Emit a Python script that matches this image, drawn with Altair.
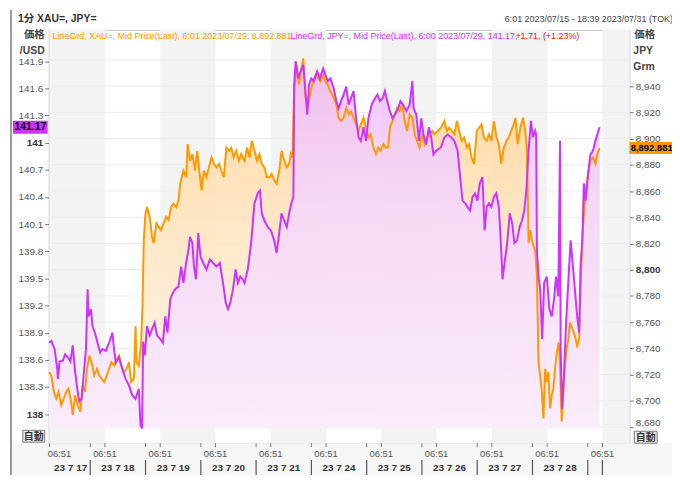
import altair as alt

# ---------------- data ----------------
# time axis in "trading-session" units (1 unit = one session band)
purple_t = [-0.01, 0.030, 0.090, 0.138, 0.149, 0.179, 0.239, 0.281, 0.328, 0.376, 0.418, 0.461, 0.507, 0.538, 0.579, 0.615, 0.658, 0.687, 0.705, 0.748,
            0.776, 0.819, 0.866, 0.914, 0.956, 1.016, 1.076, 1.135, 1.165, 1.196, 1.255, 1.314, 1.375, 1.434, 1.493, 1.554, 1.613, 1.644, 1.673, 1.691,
            1.721, 1.762, 1.811, 1.852, 1.900, 1.942, 2.003, 2.049, 2.092, 2.133, 2.182, 2.228, 2.271, 2.331, 2.379, 2.420, 2.469, 2.510, 2.540, 2.582,
            2.612, 2.648, 2.689, 2.730, 2.779, 2.838, 2.899, 2.958, 3.017, 3.078, 3.137, 3.186, 3.227, 3.268, 3.317, 3.365, 3.406, 3.448, 3.496, 3.526,
            3.585, 3.645, 3.706, 3.765, 3.806, 3.837, 3.885, 3.944, 4.003, 4.064, 4.105, 4.154, 4.195, 4.244, 4.290, 4.333, 4.374, 4.410, 4.423, 4.451,
            4.494, 4.541, 4.589, 4.631, 4.661, 4.692, 4.733, 4.781, 4.840, 4.889, 4.948, 4.989, 5.032, 5.079, 5.140, 5.186, 5.229, 5.271, 5.319, 5.366,
            5.409, 5.450, 5.498, 5.545, 5.588, 5.629, 5.678, 5.724, 5.767, 5.826, 5.886, 5.929, 5.975, 6.024, 6.065, 6.108, 6.155, 6.203, 6.244, 6.305,
            6.346, 6.395, 6.454, 6.513, 6.562, 6.585, 6.633, 6.682, 6.723, 6.764, 6.812, 6.861, 6.902, 6.943, 6.992, 7.081, 7.141, 7.202, 7.261, 7.320,
            7.381, 7.427, 7.470, 7.517, 7.560, 7.607, 7.650, 7.696, 7.739, 7.781, 7.829, 7.870, 7.906, 7.947, 7.990, 8.037, 8.080, 8.127, 8.170, 8.193,
            8.229, 8.277, 8.324, 8.367, 8.408, 8.456, 8.503, 8.546, 8.587, 8.623, 8.664, 8.707, 8.743, 8.784, 8.802, 8.815, 8.844, 8.874, 8.910, 8.946,
            8.994, 9.041, 9.084, 9.125, 9.161, 9.202, 9.233, 9.245, 9.269, 9.304, 9.340, 9.382, 9.425, 9.461, 9.502, 9.543, 9.579, 9.604, 9.640, 9.663,
            9.699, 9.740, 9.783, 9.830, 9.873, 9.908, 9.950]
purple_v = [138.79, 138.81, 138.72, 138.50, 138.39, 138.58, 138.59, 138.66, 138.63, 138.58, 138.76, 138.47, 138.25, 138.14, 138.17, 138.43, 138.72, 139.38, 139.08, 139.16,
            138.97, 138.90, 138.79, 138.68, 138.72, 138.70, 138.79, 138.90, 138.72, 138.57, 138.63, 138.50, 138.39, 138.32, 138.21, 138.17, 138.28, 137.88, 137.84, 138.80,
            138.65, 138.97, 138.87, 138.94, 139.01, 138.87, 138.83, 138.79, 139.08, 138.90, 139.27, 139.34, 139.38, 139.41, 139.63, 139.45, 139.67, 139.81, 139.96, 139.89,
            139.63, 139.49, 140.00, 139.74, 139.67, 139.60, 139.71, 139.67, 139.63, 139.67, 139.45, 139.23, 139.16, 139.23, 139.38, 139.60, 139.45, 139.52, 139.49, 139.45,
            139.60, 139.89, 140.33, 140.44, 140.47, 140.22, 140.14, 140.07, 140.03, 139.92, 139.78, 140.00, 140.22, 140.14, 140.07, 140.22, 140.33, 140.40, 141.64, 141.90,
            141.71, 141.79, 141.86, 141.53, 141.31, 141.64, 141.71, 141.68, 141.79, 141.71, 141.82, 141.75, 141.68, 141.71, 141.60, 141.46, 141.38, 141.46, 141.53, 141.62,
            141.42, 141.49, 141.57, 141.27, 141.06, 141.02, 141.17, 141.02, 141.27, 141.42, 141.49, 141.53, 141.46, 141.49, 141.57, 141.46, 141.35, 141.27, 141.31, 141.38,
            141.46, 141.42, 141.35, 141.42, 141.68, 141.38, 141.31, 141.02, 141.27, 141.09, 140.98, 141.17, 141.06, 140.87, 140.91, 140.95, 141.06, 141.09, 141.06, 141.02,
            140.91, 140.62, 140.36, 140.33, 140.29, 140.25, 140.40, 140.44, 140.36, 140.55, 140.62, 140.03, 140.29, 140.33, 140.29, 140.40, 140.44, 140.29, 139.81, 139.49,
            139.67, 139.89, 140.22, 140.11, 139.89, 139.92, 140.07, 140.14, 140.25, 140.47, 140.91, 141.24, 141.06, 141.13, 141.09, 139.81, 139.52, 139.38, 138.83, 139.45,
            139.52, 139.16, 139.08, 139.27, 139.52, 139.30, 141.02, 138.72, 138.06, 138.43, 138.97, 139.45, 139.92, 139.67, 139.38, 139.08, 138.90, 139.63, 139.96, 140.55,
            140.36, 140.65, 140.87, 140.91, 141.02, 141.09, 141.17]

orange_t = [-0.01, 0.030, 0.077, 0.120, 0.161, 0.210, 0.256, 0.299, 0.341, 0.389, 0.418, 0.461, 0.507, 0.556, 0.597, 0.640, 0.676, 0.717, 0.758, 0.807,
            0.855, 0.896, 0.938, 0.986, 1.034, 1.076, 1.117, 1.165, 1.214, 1.255, 1.296, 1.345, 1.393, 1.434, 1.475, 1.524, 1.554, 1.572, 1.613, 1.655,
            1.680, 1.703, 1.734, 1.762, 1.811, 1.852, 1.882, 1.931, 1.972, 2.013, 2.062, 2.110, 2.151, 2.200, 2.241, 2.289, 2.331, 2.361, 2.390, 2.420,
            2.469, 2.497, 2.540, 2.582, 2.630, 2.671, 2.707, 2.748, 2.791, 2.838, 2.881, 2.928, 2.971, 3.017, 3.066, 3.107, 3.150, 3.197, 3.245, 3.286,
            3.329, 3.376, 3.424, 3.465, 3.526, 3.573, 3.616, 3.657, 3.706, 3.752, 3.795, 3.837, 3.885, 3.932, 3.975, 4.016, 4.064, 4.105, 4.154, 4.195,
            4.244, 4.290, 4.333, 4.362, 4.392, 4.423, 4.469, 4.512, 4.554, 4.589, 4.631, 4.674, 4.720, 4.769, 4.810, 4.858, 4.900, 4.948, 4.989, 5.032,
            5.079, 5.140, 5.186, 5.229, 5.271, 5.319, 5.366, 5.409, 5.450, 5.498, 5.545, 5.588, 5.629, 5.678, 5.724, 5.767, 5.808, 5.857, 5.904, 5.947,
            5.988, 6.036, 6.083, 6.126, 6.155, 6.203, 6.244, 6.287, 6.334, 6.377, 6.423, 6.466, 6.513, 6.562, 6.603, 6.646, 6.692, 6.741, 6.782, 6.825,
            6.872, 6.920, 6.961, 7.022, 7.081, 7.141, 7.189, 7.230, 7.273, 7.320, 7.368, 7.410, 7.453, 7.499, 7.548, 7.589, 7.632, 7.678, 7.727, 7.768,
            7.811, 7.858, 7.906, 7.947, 7.990, 8.037, 8.085, 8.127, 8.170, 8.216, 8.265, 8.306, 8.349, 8.396, 8.426, 8.467, 8.516, 8.564, 8.605, 8.636,
            8.665, 8.695, 8.725, 8.754, 8.784, 8.815, 8.844, 8.874, 8.905, 8.933, 8.964, 8.994, 9.023, 9.053, 9.084, 9.113, 9.143, 9.174, 9.210, 9.233,
            9.263, 9.292, 9.322, 9.353, 9.382, 9.412, 9.461, 9.502, 9.543, 9.579, 9.604, 9.640, 9.663, 9.699, 9.740, 9.783, 9.830, 9.873, 9.908, 9.950]
orange_g = [8721.9, 8719.4, 8706.8, 8701.7, 8706.8, 8696.7, 8701.7, 8706.8, 8709.3, 8699.2, 8689.1, 8704.2, 8696.7, 8691.7, 8711.8, 8706.8, 8724.4, 8734.5, 8729.5, 8719.4,
            8724.4, 8719.4, 8716.9, 8714.4, 8719.4, 8724.4, 8729.5, 8726.9, 8732.0, 8734.5, 8726.9, 8721.9, 8724.4, 8729.5, 8714.4, 8716.9, 8757.1, 8729.5, 8726.9, 8744.6,
            8772.3, 8822.7, 8842.9, 8847.8, 8840.3, 8825.2, 8820.2, 8835.3, 8832.7, 8830.2, 8835.3, 8840.3, 8837.8, 8847.8, 8850.4, 8847.8, 8852.9, 8865.5, 8870.5, 8875.6,
            8870.5, 8895.8, 8883.1, 8888.2, 8875.6, 8890.7, 8875.6, 8860.5, 8875.6, 8870.5, 8878.1, 8885.6, 8880.7, 8878.1, 8880.7, 8875.6, 8870.5, 8893.2, 8890.7, 8893.2,
            8885.6, 8890.7, 8883.1, 8888.2, 8883.1, 8893.2, 8885.6, 8898.3, 8890.7, 8883.1, 8888.2, 8880.7, 8878.1, 8870.5, 8870.5, 8873.1, 8868.0, 8865.5, 8875.6, 8890.7,
            8883.1, 8878.1, 8880.7, 8888.2, 8885.6, 8936.1, 8956.2, 8941.1, 8953.7, 8961.2, 8931.0, 8923.4, 8936.1, 8943.6, 8948.7, 8946.1, 8943.6, 8948.7, 8943.6, 8941.1,
            8936.1, 8931.0, 8926.0, 8915.9, 8913.4, 8915.9, 8923.4, 8918.4, 8920.9, 8915.9, 8910.9, 8905.8, 8910.9, 8915.9, 8908.3, 8900.8, 8903.3, 8893.2, 8888.2, 8893.2,
            8890.7, 8895.8, 8893.2, 8893.2, 8908.3, 8913.4, 8918.4, 8923.4, 8920.9, 8926.0, 8913.4, 8905.8, 8918.4, 8915.9, 8903.3, 8898.3, 8893.2, 8903.3, 8895.8, 8900.8,
            8903.3, 8905.8, 8903.3, 8905.8, 8908.3, 8913.4, 8905.8, 8908.3, 8905.8, 8903.3, 8913.4, 8905.8, 8898.3, 8900.8, 8893.2, 8895.8, 8885.6, 8880.7, 8905.8, 8908.3,
            8910.9, 8900.8, 8898.3, 8903.3, 8898.3, 8913.4, 8900.8, 8895.8, 8880.7, 8893.2, 8898.3, 8900.8, 8905.8, 8910.9, 8915.9, 8895.8, 8908.3, 8915.9, 8905.8, 8890.7,
            8820.2, 8830.2, 8822.7, 8817.6, 8815.1, 8794.9, 8729.5, 8719.3, 8706.8, 8686.6, 8724.4, 8714.4, 8721.9, 8694.2, 8704.2, 8709.3, 8724.4, 8737.0, 8744.6, 8726.9,
            8684.1, 8704.2, 8726.9, 8739.5, 8747.1, 8759.7, 8754.6, 8749.6, 8742.0, 8747.1, 8784.9, 8827.7, 8840.3, 8860.5, 8873.1, 8883.1, 8885.6, 8880.7, 8888.2, 8892.9]

last_jpy = 141.17
last_xau = 8892.881

left_ticks = [138.0, 138.3, 138.6, 138.9, 139.2, 139.5, 139.8, 140.1, 140.4, 140.7, 141.0, 141.3, 141.6, 141.9]
right_ticks = [8680, 8700, 8720, 8740, 8760, 8780, 8800, 8820, 8840, 8860, 8880, 8900, 8920, 8940]
grid_values = [8680, 8700, 8720, 8740, 8760, 8780, 8800, 8820, 8840, 8860, 8880, 8900, 8920, 8940, 8960]
session_ticks = [0, 1, 2, 3, 4, 5, 6, 7, 8, 9, 10]
session_label = "06:51"
day_labels = ["23 7 17", "23 7 18", "23 7 19", "23 7 20", "23 7 21",
              "23 7 24", "23 7 25", "23 7 26", "23 7 27", "23 7 28"]
day_centers = [0.38, 1.235, 2.235, 3.235, 4.235, 5.235, 6.235, 7.235, 8.235, 9.235]
day_separators = [0.735, 1.735, 2.735, 3.735, 4.735, 5.735, 6.735, 7.735, 8.735, 9.735, 10.0]
band_start = [0, 2, 4, 6, 8, 10]
band_end = [1, 3, 5, 7, 9, 10.49]

title_left = "1分 XAU=, JPY="
title_right = "6:01 2023/07/15 - 18:39 2023/07/31 (TOK)"
legend_xau = "LineGrd, XAU=, Mid Price(Last),  6:01 2023/07/29, 8,892.881,"
legend_jpy = "LineGrd, JPY=, Mid Price(Last), 6:00 2023/07/29, 141.17,"
legend_chg = "+1.71, (+1.23%)"

# ---------------- styling ----------------
PURPLE = "#cc33ff"
ORANGE = "#ff9900"
FONT = "Liberation Sans, Noto Sans CJK JP"
XDOM = [-0.018, 10.488]
LDOM = [137.679, 142.246]
RDOM = [8667.7, 8982.9]
xs = alt.Scale(domain=XDOM, nice=False, zero=False)
ls = alt.Scale(domain=LDOM, nice=False, zero=False)
rs = alt.Scale(domain=RDOM, nice=False, zero=False)

purple_rows = [{"t": t, "v": v} for t, v in zip(purple_t, purple_v)]
orange_rows = [{"t": t, "g": g} for t, g in zip(orange_t, orange_g)]
one = alt.Data(values=[{}])


def txt(text, x, y, **kw):
    return alt.Chart(one).mark_text(text=text, **kw).encode(x=alt.value(x), y=alt.value(y))


def box(x, x2, y, y2, **kw):
    return alt.Chart(one).mark_rect(**kw).encode(
        x=alt.value(x), x2=alt.value(x2), y=alt.value(y), y2=alt.value(y2))


bottom_bg = box(-38, 631, 417, 470, fill="#f6f6f6")
frame = alt.Chart(one).mark_rule(color="#999999", strokeWidth=2).encode(
    x=alt.value(-38), y=alt.value(-20), y2=alt.value(470))

bands = alt.Chart(alt.Data(values=[{"s": s, "e": e} for s, e in zip(band_start, band_end)])).mark_rect(
    fill="#f3f3f3").encode(
    x=alt.X("s:Q", scale=xs, axis=None),
    x2="e:Q", y=alt.value(0), y2=alt.value(417))

grid = alt.Chart(alt.Data(values=[{"g": g} for g in grid_values])).mark_rule(
    color="#ebebeb", strokeWidth=1).encode(
    y=alt.Y("g:Q", scale=rs, axis=None), x=alt.value(0), x2=alt.value(586))

orange_grad = alt.Gradient(gradient="linear", x1=1, x2=1, y1=0, y2=1, stops=[
    alt.GradientStop(color="#ffd08c", offset=0),
    alt.GradientStop(color="#ffe4bd", offset=0.45),
    alt.GradientStop(color="#fff5e8", offset=1)])
purple_grad = alt.Gradient(gradient="linear", x1=1, x2=1, y1=0, y2=1, stops=[
    alt.GradientStop(color="#eebcfb", offset=0),
    alt.GradientStop(color="#f4d6fc", offset=0.4),
    alt.GradientStop(color="#f9ebfd", offset=1)])

orange_area = alt.Chart(alt.Data(values=orange_rows)).mark_area(
    color=orange_grad, fillOpacity=0.85).encode(
    x=alt.X("t:Q", scale=xs, axis=None),
    y=alt.Y("g:Q", scale=rs, title=None,
            axis=alt.Axis(orient="right", values=right_ticks,
                          labelExpr="format(datum.value, ',')", tickSize=4, tickColor="#777777",
                          labelPadding=2, labelFontSize=10, labelOverlap=False,
                          labelBaseline=alt.condition("datum.value === 8680", alt.value("bottom"), alt.value("middle")),
                          labelColor=alt.condition("datum.value === 8800", alt.value("#333333"), alt.value("#555555")),
                          labelFontWeight=alt.condition("datum.value === 8800", alt.value("bold"), alt.value("normal")),
                          domain=False, grid=False)),
    y2=alt.datum(8679))

purple_area = alt.Chart(alt.Data(values=purple_rows)).mark_area(
    color=purple_grad, fillOpacity=0.85).encode(
    x=alt.X("t:Q", scale=xs, axis=None),
    y=alt.Y("v:Q", scale=ls, title=None,
            axis=alt.Axis(orient="left", values=left_ticks,
                          labelExpr="format(datum.value, '~f')", tickSize=4, tickColor="#777777",
                          labelPadding=2, labelFontSize=10, labelOverlap=False,
                          labelColor=alt.condition("datum.value % 1 === 0", alt.value("#333333"), alt.value("#555555")),
                          labelFontWeight=alt.condition("datum.value % 1 === 0", alt.value("bold"), alt.value("normal")),
                          domain=False, grid=False)),
    y2=alt.datum(137.84))

orange_line = alt.Chart(alt.Data(values=orange_rows)).mark_line(
    color=ORANGE, strokeWidth=2).encode(
    x=alt.X("t:Q", scale=xs, axis=None), y=alt.Y("g:Q", scale=rs, axis=None))
purple_line = alt.Chart(alt.Data(values=purple_rows)).mark_line(
    color=PURPLE, strokeWidth=2).encode(
    x=alt.X("t:Q", scale=xs, axis=None), y=alt.Y("v:Q", scale=ls, axis=None))

# last-price boxes
jpy_last = alt.Data(values=[{"v": last_jpy}])
xau_last = alt.Data(values=[{"g": last_xau}])
jpy_box = alt.Chart(jpy_last).mark_rect(color=PURPLE, yOffset=-6.5, y2Offset=6.5).encode(
    x=alt.value(-36), x2=alt.value(-1), y=alt.Y("v:Q", scale=ls, axis=None), y2="v:Q")
jpy_txt = alt.Chart(jpy_last).mark_text(fontWeight="bold", fontSize=10.5, color="#000000", font=FONT).encode(
    x=alt.value(-18.5), y=alt.Y("v:Q", scale=ls, axis=None), text=alt.Text("v:Q", format=".2f"))
xau_box = alt.Chart(xau_last).mark_rect(color=ORANGE, yOffset=-6, y2Offset=6).encode(
    x=alt.value(586), x2=alt.value(631), y=alt.Y("g:Q", scale=rs, axis=None), y2="g:Q")
xau_txt = alt.Chart(xau_last).mark_text(fontWeight="bold", fontSize=9.5, color="#000000", font=FONT).encode(
    x=alt.value(608.5), y=alt.Y("g:Q", scale=rs, axis=None), text=alt.Text("g:Q", format=",.3f"))

# x axis: session ticks with "06:51", day labels and separators
sess_data = alt.Data(values=[{"s": s} for s in session_ticks])
sess_ticks = alt.Chart(sess_data).mark_rule(color="#777777").encode(
    x=alt.X("s:Q", scale=xs, axis=None), y=alt.value(417), y2=alt.value(421))
sess_first = alt.Chart(sess_data).transform_filter("datum.s === 0").mark_text(
    text=session_label, align="left", baseline="middle", fontSize=9.5, color="#555555", font=FONT, dx=-2).encode(
    x=alt.X("s:Q", scale=xs, axis=None), y=alt.value(428))
sess_rest = alt.Chart(sess_data).transform_filter("datum.s > 0").mark_text(
    text=session_label, align="center", baseline="middle", fontSize=9.5, color="#555555", font=FONT).encode(
    x=alt.X("s:Q", scale=xs, axis=None), y=alt.value(428))

days = alt.Chart(alt.Data(values=[{"c": c, "d": d} for c, d in zip(day_centers, day_labels)])).mark_text(
    fontWeight="bold", fontSize=10, color="#333333", font=FONT).encode(
    x=alt.X("c:Q", scale=xs, axis=None), y=alt.value(442), text="d:N")
seps_data = alt.Data(values=[{"s": s} for s in day_separators])
seps = alt.Chart(seps_data).mark_rule(color="#555555", strokeWidth=1.2).encode(
    x=alt.X("s:Q", scale=xs, axis=None), y=alt.value(434), y2=alt.value(450))
seps_top = alt.Chart(seps_data).mark_rule(color="#777777").encode(
    x=alt.X("s:Q", scale=xs, axis=None), y=alt.value(417), y2=alt.value(421))

# header / axis titles / legend text
texts = [
    txt(title_left, -31, -11, align="left", baseline="middle", fontSize=10.5, fontWeight="bold", color="#333333", font=FONT),
    txt(title_right, 630, -11, align="right", baseline="middle", fontSize=9, color="#444444", font=FONT),
    txt("価格", -4, 5, align="right", baseline="middle", fontSize=10.5, fontWeight="bold", color="#444444", font=FONT),
    txt("/USD", -4, 21, align="right", baseline="middle", fontSize=10.5, fontWeight="bold", color="#444444", font=FONT),
    txt("価格", 591, 5, align="left", baseline="middle", fontSize=10.5, fontWeight="bold", color="#444444", font=FONT),
    txt("JPY", 590, 21, align="left", baseline="middle", fontSize=10.5, fontWeight="bold", color="#444444", font=FONT),
    txt("Grm", 590, 37, align="left", baseline="middle", fontSize=10.5, fontWeight="bold", color="#444444", font=FONT),
    txt(legend_xau, 4, 6, align="left", baseline="middle", fontSize=9, color=ORANGE, font=FONT),
    txt(legend_jpy, 244, 6, align="left", baseline="middle", fontSize=9, color=PURPLE, font=FONT),
    txt(legend_chg, 471, 6, align="left", baseline="middle", fontSize=9, color="#ee1111", font=FONT),
]
buttons = [
    box(-26, -4, 404, 416, fill="#efefef", stroke="#777777", strokeWidth=1),
    txt("自動", -15, 410.5, align="center", baseline="middle", fontSize=10, fontWeight="bold", color="#333333", font=FONT),
    box(591, 614, 405, 417, fill="#efefef", stroke="#777777", strokeWidth=1),
    txt("自動", 602.5, 411.5, align="center", baseline="middle", fontSize=10, fontWeight="bold", color="#333333", font=FONT),
]

chart = alt.layer(
    bottom_bg, frame, bands, grid, orange_area, purple_area, orange_line, purple_line,
    jpy_box, jpy_txt, xau_box, xau_txt, sess_ticks, sess_first, sess_rest, days, seps, seps_top,
    *texts, *buttons
).resolve_scale(y="independent").properties(
    width=586, height=417,
    autosize=alt.AutoSizeParams(type="none"),
    padding={"left": 41, "top": 20, "right": 43, "bottom": 30},
    background="#ffffff",
).configure_view(stroke="#c4c4c4", fill="#ffffff").configure_axis(
    labelFont=FONT
)

chart.save("out.html", embed_options={"renderer": "svg", "actions": False})
